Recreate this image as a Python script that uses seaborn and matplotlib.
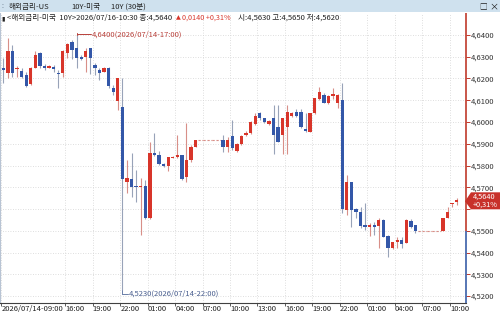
import numpy as np
import pandas as pd
import matplotlib
matplotlib.use("Agg")
import matplotlib.pyplot as plt
import matplotlib.transforms as mtrans
import seaborn as sns
from matplotlib.patches import Polygon, Rectangle

# ---------------- data (30-minute candles, 2026/07/14 09:00 -> 2026/07/16 10:30) -------------
opens = [
    4.6250, 4.6224, 4.6326, 4.6242, 4.6236, 4.6216, 4.6173, 4.6250, 4.6319, 4.6259,
    4.6250, 4.6254, 4.6227, 4.6224, 4.6319, 4.6369, 4.6339, 4.6300, 4.6297, 4.6339,
    4.6262, 4.6239, 4.6231, 4.6250, 4.6158, 4.6097, 4.6068, 4.5724, 4.5738, 4.5706,
    4.5700, 4.5706, 4.5559, 4.5859, 4.5848, 4.5807, 4.5798, 4.5834, 4.5838, 4.5848,
    4.5746, 4.5825, 4.5886, 4.5917, 4.5917, 4.5917, 4.5917, 4.5917, 4.5917, 4.5886,
    4.5936, 4.5868, 4.5897, 4.5940, 4.5948, 4.5989, 4.6040, 4.6017, 4.5989, 4.6017,
    4.5978, 4.5940, 4.5978, 4.6029, 4.6047, 4.6045, 4.5968, 4.5955, 4.6040, 4.6104,
    4.6124, 4.6086, 4.6121, 4.6086, 4.6101, 4.5595, 4.5726, 4.5599, 4.5588, 4.5526,
    4.5519, 4.5526, 4.5523, 4.5549, 4.5476, 4.5419, 4.5447, 4.5457, 4.5445, 4.5546,
    4.5526, 4.5500, 4.5500, 4.5500, 4.5500, 4.5500, 4.5500, 4.5557, 4.5623, 4.5630]
closes = [
    4.6239, 4.6326, 4.6224, 4.6250, 4.6206, 4.6166, 4.6250, 4.6308, 4.6259, 4.6250,
    4.6257, 4.6244, 4.6219, 4.6326, 4.6357, 4.6331, 4.6293, 4.6288, 4.6326, 4.6293,
    4.6250, 4.6227, 4.6250, 4.6166, 4.6139, 4.6201, 4.5737, 4.5743, 4.5701, 4.5700,
    4.5706, 4.5559, 4.5859, 4.5848, 4.5807, 4.5798, 4.5838, 4.5840, 4.5848, 4.5738,
    4.5825, 4.5886, 4.5917, 4.5917, 4.5917, 4.5917, 4.5917, 4.5917, 4.5886, 4.5917,
    4.5879, 4.5897, 4.5936, 4.5951, 4.5999, 4.6028, 4.6020, 4.5999, 4.6006, 4.5940,
    4.5909, 4.6017, 4.6047, 4.6040, 4.6029, 4.5978, 4.5959, 4.6040, 4.6109, 4.6139,
    4.6086, 4.6120, 4.6129, 4.6124, 4.5599, 4.5726, 4.5595, 4.5588, 4.5523, 4.5519,
    4.5526, 4.5519, 4.5549, 4.5473, 4.5419, 4.5447, 4.5457, 4.5438, 4.5549, 4.5516,
    4.5500, 4.5500, 4.5500, 4.5500, 4.5500, 4.5500, 4.5557, 4.5588, 4.5626, 4.5640]
highs = [
    4.6293, 4.6388, 4.6354, 4.6257, 4.6247, 4.6231, 4.6254, 4.6326, 4.6323, 4.6265,
    4.6262, 4.6262, 4.6239, 4.6331, 4.6362, 4.6377, 4.6400, 4.6308, 4.6339, 4.6342,
    4.6270, 4.6247, 4.6254, 4.6254, 4.6170, 4.6201, 4.6202, 4.5825, 4.5856, 4.5779,
    4.5743, 4.5733, 4.5909, 4.5949, 4.5868, 4.5811, 4.5840, 4.5844, 4.5940, 4.5848,
    4.5997, 4.5894, 4.5917, 4.5917, 4.5917, 4.5917, 4.5917, 4.5917, 4.5940, 4.5932,
    4.6009, 4.5902, 4.5940, 4.5959, 4.6005, 4.6040, 4.6047, 4.6020, 4.6009, 4.6078,
    4.6078, 4.6018, 4.6078, 4.6046, 4.6058, 4.6058, 4.6040, 4.6041, 4.6110, 4.6160,
    4.6132, 4.6124, 4.6155, 4.6129, 4.6178, 4.5756, 4.5726, 4.5603, 4.5611, 4.5626,
    4.5534, 4.5542, 4.5557, 4.5552, 4.5480, 4.5448, 4.5473, 4.5473, 4.5552, 4.5553,
    4.5526, 4.5500, 4.5500, 4.5500, 4.5500, 4.5500, 4.5559, 4.5608, 4.5628, 4.5650]
lows = [
    4.6178, 4.6204, 4.6208, 4.6208, 4.6201, 4.6162, 4.6170, 4.6247, 4.6247, 4.6239,
    4.6247, 4.6231, 4.6158, 4.6208, 4.6296, 4.6288, 4.6250, 4.6285, 4.6231, 4.6219,
    4.6216, 4.6193, 4.6230, 4.6155, 4.6124, 4.6055, 4.5230, 4.5672, 4.5657, 4.5634,
    4.5480, 4.5554, 4.5554, 4.5844, 4.5802, 4.5793, 4.5776, 4.5833, 4.5833, 4.5733,
    4.5726, 4.5817, 4.5885, 4.5917, 4.5917, 4.5917, 4.5917, 4.5917, 4.5863, 4.5863,
    4.5871, 4.5863, 4.5894, 4.5936, 4.5945, 4.5986, 4.6009, 4.5995, 4.5986, 4.5853,
    4.5906, 4.5853, 4.5853, 4.6025, 4.6024, 4.5974, 4.5955, 4.5954, 4.6037, 4.6101,
    4.6086, 4.6083, 4.6104, 4.6063, 4.5580, 4.5572, 4.5519, 4.5557, 4.5511, 4.5503,
    4.5476, 4.5480, 4.5419, 4.5471, 4.5381, 4.5416, 4.5419, 4.5419, 4.5444, 4.5511,
    4.5491, 4.5500, 4.5500, 4.5500, 4.5500, 4.5500, 4.5500, 4.5557, 4.5610, 4.5620]

prev_close = 4.5500
last_close = 4.5640
change_pct = "+0,31%"
y_tick_values = [4.52, 4.53, 4.54, 4.55, 4.56, 4.57, 4.58, 4.59, 4.60, 4.61, 4.62, 4.63, 4.64]
x_tick_index = [0, 14, 20, 26, 32, 38, 44, 50, 56, 62, 68, 74, 80, 86, 92, 98]
x_tick_labels = ["2026/07/14-09:00", "16:00", "19:00", "22:00", "01:00", "04:00", "07:00",
                 "10:00", "13:00", "16:00", "19:00", "22:00", "01:00", "04:00", "07:00", "10:00"]
high_idx, high_label = 16, "4,6400(2026/07/14-17:00)"
low_idx, low_label = 26, "4,5230(2026/07/14-22:00)"

df = pd.DataFrame({"o": opens, "h": highs, "l": lows, "c": closes})
df["i"] = np.arange(len(df))

# ---------------- style ----------------
sns.set_style("white")
plt.rcParams["font.family"] = ["Noto Sans CJK KR", "DejaVu Sans"]

W, H = 500, 314
fig = plt.figure(figsize=(W / 100, H / 100), dpi=100)
fig.patch.set_facecolor("white")

def fx(px):
    return px / W

def fy(py):
    return 1 - py / H

ax = fig.add_axes([0, fy(303), fx(466), fy(13) - fy(303)])
ax.set_facecolor("white")

RED = "#d8352a"
BLUE = "#3357a8"
RED_W = "#d88f88"
BLUE_W = "#98a3b8"
GRID = "#d4d4d4"
FS = 5.5

ax.set_xlim(-0.72, 101.03)
ax.set_ylim(4.5168, 4.6501)

# grid
for v in y_tick_values:
    ax.axhline(v, color=GRID, lw=0.6, ls=(0, (1, 2)), zorder=0)
for i in x_tick_index:
    ax.axvline(i - 0.5, color=GRID, lw=0.6, ls=(0, (1, 2)), zorder=0)

# candles
bw = 0.72
for _, r in df.iterrows():
    i = r["i"]
    o, h, l, c = r["o"], r["h"], r["l"], r["c"]
    if o == h == l == c:
        ax.plot([i - 0.5, i + 0.5], [c, c], color=RED_W, lw=0.8, ls=(0, (2, 1.5)), zorder=2)
        continue
    up = c >= o
    col = RED if up else BLUE
    wc = RED_W if up else BLUE_W
    ax.vlines(i, l, h, color=wc, lw=0.8, zorder=2)
    bot = min(o, c)
    ht = max(abs(c - o), 0.00008)
    ax.bar(i, ht, bottom=bot, width=bw, color=col, edgecolor="none", zorder=3)

# spines
for s in ["top", "right"]:
    ax.spines[s].set_visible(False)
ax.spines["left"].set_color("#b8c4d4")
ax.spines["left"].set_linewidth(0.8)
ax.spines["bottom"].set_color("#404040")
ax.spines["bottom"].set_linewidth(0.8)
xr = ax.get_xlim()[1]
ax.vlines(xr, prev_close, ax.get_ylim()[1], color="#c0392b", lw=1.2, clip_on=False, zorder=5)
ax.vlines(xr, ax.get_ylim()[0], prev_close, color="#3a5fa8", lw=1.2, clip_on=False, zorder=5)

# y ticks on the right (the label under the price tag is hidden, as in the original)
ax.yaxis.tick_right()
ax.set_yticks(y_tick_values)
ylabels = [f"{v:.4f}".replace(".", ",") for v in y_tick_values]
ylabels = ["" if abs(v - 4.56) < 1e-9 else s for v, s in zip(y_tick_values, ylabels)]
ax.set_yticklabels(ylabels)
ax.tick_params(axis="y", which="both", direction="out", length=3, width=0.7, color="#c0392b",
               labelsize=FS, labelcolor="#333333", pad=0.5, right=True, left=False)

# x ticks (marks) + labels drawn left-aligned just below the axis
ax.set_xticks([i - 0.5 for i in x_tick_index])
ax.set_xticklabels([])
ax.tick_params(axis="x", direction="out", length=2.5, width=0.6, color="#404040", bottom=True)
trans = mtrans.blended_transform_factory(ax.transData, fig.transFigure)
for i, lab in zip(x_tick_index, x_tick_labels):
    ax.text(i - 0.45, fy(311.2), lab, transform=trans, fontsize=FS, color="#222222",
            ha="left", va="baseline", clip_on=False)

# high / low annotations
hy = highs[high_idx] + 0.0003
ax.plot([high_idx, high_idx], [highs[high_idx], hy + 0.0006], color="#b8403a", lw=0.7)
ax.plot([high_idx, high_idx + 3.2], [hy, hy], color="#b8403a", lw=0.7)
ax.text(high_idx + 3.3, hy, high_label, color="#b8403a", fontsize=FS, va="center", ha="left")
ly = lows[low_idx] - 0.0020
ax.plot([low_idx, low_idx], [lows[low_idx], ly], color="#6a7ea8", lw=0.7)
ax.plot([low_idx, low_idx + 1.3], [ly, ly], color="#6a7ea8", lw=0.7)
ax.text(low_idx + 1.4, ly, low_label, color="#4a5f8f", fontsize=FS, va="center", ha="left")

# ---------------- header ----------------
fig.patches.append(Rectangle((0, fy(12)), 1, fy(0) - fy(12), transform=fig.transFigure,
                             facecolor="#cfe1ee", edgecolor="none", zorder=0))
fig.text(fx(1), fy(6.5), ":", fontsize=5, color="#667788", va="center")
fig.text(fx(9), fy(6.5), "해외금리-US", fontsize=FS, color="#222222", va="center")
fig.text(fx(71), fy(6.5), "10Y-미국", fontsize=FS, color="#222222", va="center")
fig.text(fx(111), fy(6.5), "10Y (30분)", fontsize=FS, color="#222222", va="center")
fig.text(fx(483), fy(6.5), "□", fontsize=5.5, color="#222222", va="center", ha="center")
fig.text(fx(494), fy(6.5), "×", fontsize=6.5, color="#222222", va="center", ha="center")

fig.text(fx(1.5), fy(18), "▮", fontsize=4.5, color="#222222", va="center")
fig.text(fx(7), fy(18), "<해외금리-미국  10Y>2026/07/16-10:30 종:4,5640", fontsize=FS,
         color="#222222", va="center")
fig.text(fx(176), fy(18), "▲", fontsize=4.5, color=RED, va="center", family=["DejaVu Sans"])
fig.text(fx(182), fy(18), "0,0140 +0,31%", fontsize=5.2, color=RED, va="center")
fig.text(fx(238), fy(18), "시:4,5630 고:4,5650 저:4,5620", fontsize=FS, color="#222222", va="center")

# ---------------- current price tag ----------------
yl = ax.get_ylim()
def val_to_py(v):
    return 303 - (v - yl[0]) / (yl[1] - yl[0]) * (303 - 13)
cy = val_to_py(last_close)
pts = [(465, cy + 1), (471, cy - 8), (500, cy - 8), (500, cy + 9), (471, cy + 9)]
fig.patches.append(Polygon([(fx(x), fy(y)) for x, y in pts], closed=True, transform=fig.transFigure,
                           facecolor="#c8312a", edgecolor="none", zorder=10))
fig.text(fx(473), fy(cy - 3.6), f"{last_close:.4f}".replace(".", ","), fontsize=5.3,
         color="white", va="center", zorder=11)
fig.text(fx(473), fy(cy + 4.8), change_pct, fontsize=5.3, color="white", va="center", zorder=11)

fig.savefig("out.png", dpi=100)
